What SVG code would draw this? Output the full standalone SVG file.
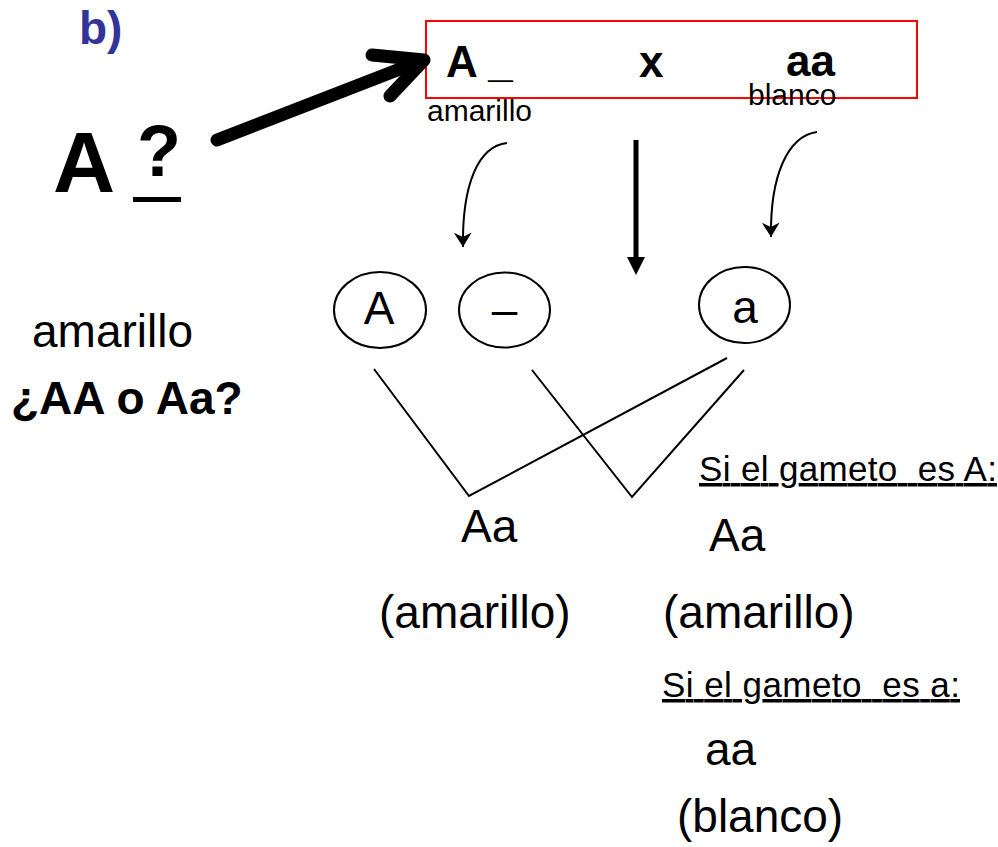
<svg xmlns="http://www.w3.org/2000/svg" width="998" height="847" viewBox="0 0 998 847">
  <style>
    text { font-family: "Liberation Sans", Arial, sans-serif; fill: #000; }
    .b { font-weight: bold; }
    .big { font-size: 46px; }
    .mid { font-size: 44px; }
    .small { font-size: 30px; }
    .note { font-size: 35px; text-decoration: underline; }
    .thin { fill: none; stroke: #000; stroke-width: 2; }
    .oval { fill: #fff; stroke: #000; stroke-width: 2; }
  </style>
  <defs>
    <marker id="tip" markerUnits="userSpaceOnUse" markerWidth="20" markerHeight="20" viewBox="-14 -9 16 18" refX="0" refY="0" orient="auto">
      <path d="M0,0 L-13,-8 L-9,0 L-13,8 Z" fill="#000"/>
    </marker>
  </defs>

  <!-- heading -->
  <text x="79" y="44" class="b" font-size="46" style="fill:#333399">b)</text>

  <!-- unknown genotype -->
  <g id="unknown">
    <text x="53" y="192" class="b" font-size="86">A</text>
    <text x="137" y="176" class="b" font-size="72">?</text>
    <rect x="133" y="197" width="48" height="5" fill="#000"/>
  </g>

  <g id="left-note">
    <text x="32" y="347" class="big">amarillo</text>
    <text x="11" y="414" class="b" font-size="46">¿AA o Aa?</text>
  </g>

  <!-- cross box -->
  <g id="cross">
    <rect x="426" y="21" width="491" height="77" fill="none" stroke="#ff0000" stroke-width="2"/>
    <text x="446" y="77" class="b mid" xml:space="preserve">A _</text>
    <text x="639" y="77" class="b mid">x</text>
    <text x="786" y="76" class="b mid">aa</text>
    <text x="748" y="105" class="small">blanco</text>
    <text x="427" y="121" class="small">amarillo</text>
  </g>

  <!-- gametes -->
  <g id="gamete-A">
    <ellipse cx="380" cy="310" rx="46" ry="38" class="oval"/>
    <text x="379" y="324" class="big" text-anchor="middle">A</text>
  </g>
  <g id="gamete-dash">
    <ellipse cx="504.5" cy="310" rx="45.5" ry="37.5" class="oval"/>
    <text x="504.5" y="325" class="big" text-anchor="middle">–</text>
  </g>
  <g id="gamete-a">
    <ellipse cx="744.5" cy="305" rx="45.5" ry="38" class="oval"/>
    <text x="745" y="323" class="big" text-anchor="middle">a</text>
  </g>

  <!-- offspring -->
  <g id="offspring-left">
    <text x="461" y="542" class="big">Aa</text>
    <text x="379" y="628" class="big">(amarillo)</text>
  </g>
  <g id="offspring-right">
    <text x="699" y="481" class="note" textLength="298" lengthAdjust="spacing" xml:space="preserve">Si el gameto  es A:</text>
    <text x="709" y="551" class="big">Aa</text>
    <text x="663" y="628" class="big">(amarillo)</text>
    <text x="662" y="697" class="note" textLength="298" lengthAdjust="spacing" xml:space="preserve">Si el gameto  es a:</text>
    <text x="705" y="765" class="big">aa</text>
    <text x="677" y="832" class="big">(blanco)</text>
  </g>

  <!-- connectors -->
  <g id="connectors">
    <line x1="217" y1="140" x2="418" y2="62" stroke="#000" stroke-width="13" stroke-linecap="round"/>
    <polyline points="372,55 424,60 390,96" fill="none" stroke="#000" stroke-width="13" stroke-linecap="round" stroke-linejoin="round"/>
    <path d="M507,143 C478,146 462,185 463,247" class="thin" marker-end="url(#tip)"/>
    <path d="M817,132 C788,136 770,175 771,237" class="thin" marker-end="url(#tip)"/>
    <line x1="636" y1="140" x2="636" y2="260" stroke="#000" stroke-width="5"/>
    <polygon points="627,257 645,257 636,275" fill="#000"/>
    <polyline points="374,369 469,496 727,358" class="thin"/>
    <polyline points="532,370 632,497 744,370" class="thin"/>
  </g>
</svg>
